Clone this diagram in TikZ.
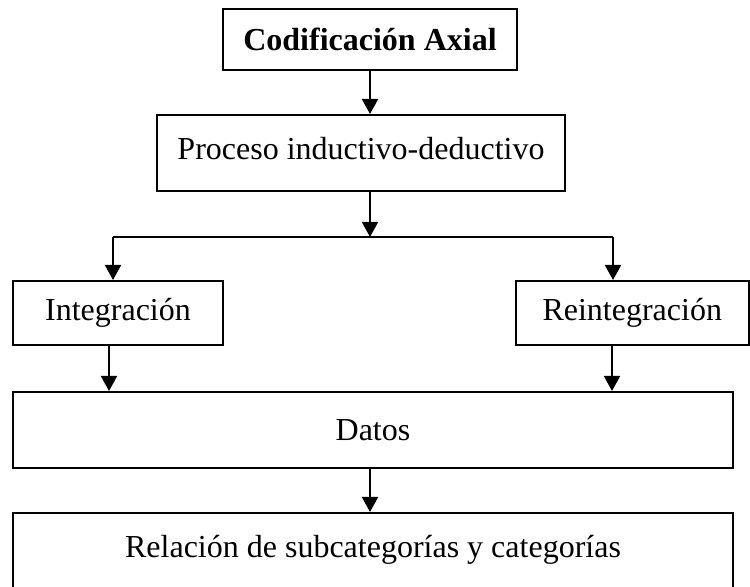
\documentclass[tikz,border=0pt]{standalone}
\usepackage{fontspec}
\setmainfont{Liberation Serif}
\usetikzlibrary{arrows.meta,positioning}

\tikzset{
	box/.style={draw, rectangle, line width=1pt, inner sep=0pt, font=\fontsize{16}{19}\selectfont},
	arrow/.style={line width=1pt, -{Triangle[length=7.5pt,width=8pt]}},
}

\begin{document}
\begin{tikzpicture}[x=0.5pt,y=-0.5pt]
				\useasboundingbox (0,0) rectangle (750,587);
				\clip (0,0) rectangle (750,587);
				
				\node[box, minimum width=147pt, minimum height=30.5pt] (axial) at (370,39.5) {\bfseries Codificación Axial};
				\node[box, minimum width=204pt, minimum height=38pt, text depth=0.45em] (proceso) at (361,153) {Proceso inductivo-deductivo};
				\node[box, minimum width=105pt, minimum height=32pt] (integ) at (118,313) {Integración};
				\node[box, minimum width=116.25pt, minimum height=32pt] (reinteg) at (632.25,313) {Reintegración};
				\node[box, minimum width=360pt, minimum height=38pt] (datos) at (373,430) {Datos};
				\node[box, minimum width=360pt, minimum height=41pt, text depth=0.75em] (relacion) at (373,554) {Relación de subcategorías y categorías};
				
				\coordinate (split) at (370,237);
				\coordinate (splitL) at (113,237);
				\coordinate (splitR) at (613,237);
				\coordinate (downL) at (109,0);
				\coordinate (downR) at (612,0);
				
				\draw[arrow] (axial.south) -- (axial.south |- proceso.north);
				\draw[arrow] (proceso.south -| split) -- (split);
				\draw[line width=1pt] (splitL) -- (splitR);
				\draw[arrow] (splitL) -- (splitL |- integ.north);
				\draw[arrow] (splitR) -- (splitR |- reinteg.north);
				\draw[arrow] (integ.south -| downL) -- (datos.north -| downL);
				\draw[arrow] (reinteg.south -| downR) -- (datos.north -| downR);
				\draw[arrow] (datos.south -| axial.south) -- (relacion.north -| axial.south);
\end{tikzpicture}
\end{document}
